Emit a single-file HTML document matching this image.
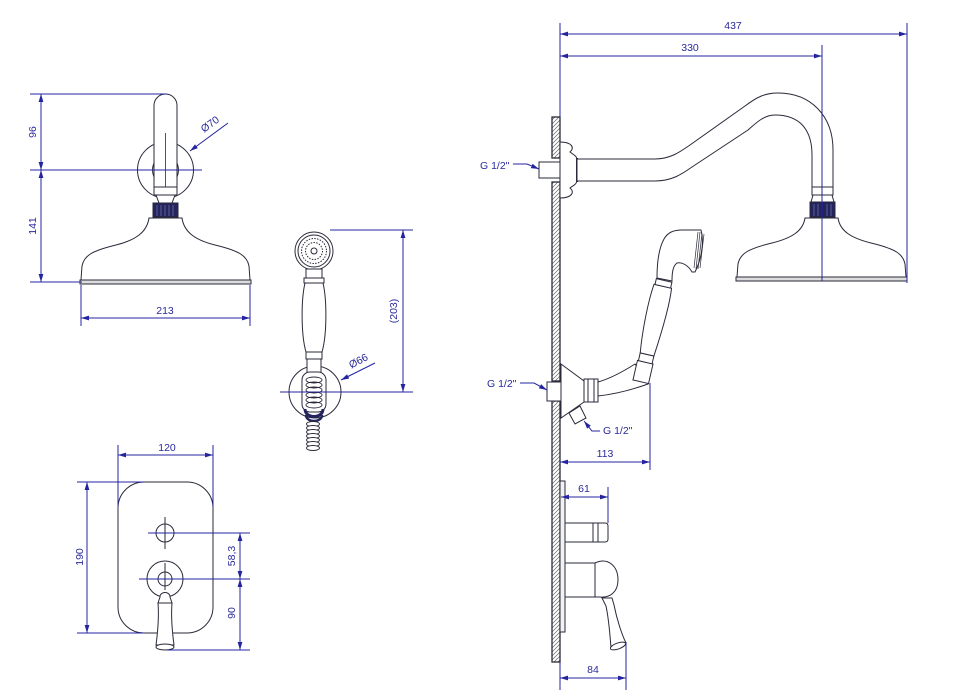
<!DOCTYPE html>
<html><head><meta charset="utf-8"><style>
html,body{margin:0;padding:0;background:#fff;}
svg{display:block;}
text{font-family:"Liberation Sans",Arial,sans-serif;font-size:10.5px;fill:#2a2a9c;}
</style></head><body>
<svg width="973" height="700" viewBox="0 0 973 700" xmlns="http://www.w3.org/2000/svg">
<defs>
<marker id="a" viewBox="0 0 10 6" refX="10" refY="3" markerWidth="8" markerHeight="5" orient="auto-start-reverse" markerUnits="userSpaceOnUse"><path d="M0,0 L10,3 L0,6 z" fill="#2424a0"/></marker>
<pattern id="h" patternUnits="userSpaceOnUse" width="4" height="4"><path d="M-1,1 L1,-1 M0,4 L4,0 M3,5 L5,3" stroke="#666" stroke-width="0.7"/></pattern>
</defs>

<!-- ============ DRAWINGS ============ -->
<g stroke="#2a2a3a" stroke-width="1" fill="#fff">
  <!-- top-left shower head -->
  <circle cx="165.5" cy="170" r="28" fill="none"/>
  <path d="M154,189 L154,105.5 A11.5,11.5 0 0 1 177,105.5 L177,189 Z"/>
  <path d="M154,163 q-3,7 0,14 M177,163 q3,7 0,14" fill="none"/>
  <line x1="165.5" y1="133" x2="165.5" y2="203" stroke-width="0.8"/>
  <rect x="154" y="187" width="23" height="8"/>
  <path d="M156,195 L175,195 L172,203 L159,203 Z"/>
  <rect x="153" y="203" width="25" height="14" fill="#23235e"/>
  <path d="M157,205 V216 M161,205 V216 M165,205 V216 M169,205 V216 M173,205 V216" stroke="#8888bb" stroke-width="0.6"/>
  <path d="M149,218 L182,218 C184,232 195,240 215,245 C240,251 247,256 249,266 L250,280 L81,280 L82,266 C84,256 91,251 116,245 C136,240 147,232 149,218 Z"/>
  <rect x="80" y="280" width="171" height="4" fill="#dcdcdc"/>

  <!-- left hand shower -->
  <circle cx="315" cy="392" r="26" fill="none"/>
  <circle cx="314" cy="251" r="19"/>
  <circle cx="314" cy="251" r="16" fill="none"/>
  <circle cx="314" cy="251" r="12.5" fill="none" stroke-dasharray="1.5 1.3"/>
  <circle cx="314" cy="251" r="8.5" fill="none" stroke-dasharray="1.5 1.3"/>
  <circle cx="314" cy="251" r="3" fill="none"/>
  <rect x="306" y="269" width="16" height="9"/>
  <rect x="304" y="278" width="20" height="5"/>
  <path d="M305,283 L323,283 C327,300 327,335 322,352 L306,352 C301,335 301,300 305,283 Z"/>
  <rect x="306" y="352" width="16" height="7"/>
  <rect x="307" y="359" width="14" height="14"/>
  <rect x="302" y="372" width="24" height="40" rx="8"/>
  <g fill="none" stroke-width="0.9">
    <ellipse cx="314" cy="380" rx="8" ry="3"/><ellipse cx="314" cy="385" rx="8" ry="3"/>
    <ellipse cx="314" cy="390" rx="8" ry="3"/><ellipse cx="314" cy="395" rx="8" ry="3"/>
    <ellipse cx="314" cy="400" rx="8" ry="3"/><ellipse cx="314" cy="405" rx="8" ry="3"/>
  </g>
  <path d="M305,409 C305,419 323,419 323,409" fill="none" stroke="#23235e" stroke-width="3"/>
  <path d="M306,415 C306,423 322,423 322,415" fill="none" stroke="#23235e" stroke-width="2.5"/>
  <g fill="#fff" stroke-width="0.9">
    <ellipse cx="313" cy="424" rx="6.5" ry="2.5"/><ellipse cx="313" cy="428" rx="6.5" ry="2.5"/>
    <ellipse cx="313" cy="432" rx="6.5" ry="2.5"/><ellipse cx="313" cy="436" rx="6.5" ry="2.5"/>
    <ellipse cx="313" cy="440" rx="6.5" ry="2.5"/><ellipse cx="313" cy="444" rx="6.5" ry="2.5"/>
    <ellipse cx="313" cy="448" rx="6.5" ry="2.5"/>
  </g>

  <!-- bottom-left mixer plate -->
  <rect x="118" y="482" width="95" height="151" rx="26"/>
  <circle cx="165" cy="533" r="9"/>
  <line x1="165" y1="517" x2="165" y2="549"/>
  <circle cx="165" cy="579" r="18"/>
  <circle cx="165" cy="579" r="7"/>
  <line x1="165" y1="563" x2="165" y2="590"/>
  <path d="M160,597 C160,591 170,591 170,597 L172,603 L158,603 Z"/>
  <path d="M158,603 L172,603 C171,615 172,630 174,645 L156,645 C158,630 159,615 158,603 Z"/>
  <ellipse cx="165" cy="647" rx="9" ry="3"/>

  <!-- right side: wall -->
  <g fill="url(#h)" stroke-width="1.3">
    <rect x="552" y="117" width="8" height="41"/>
    <rect x="552" y="182" width="8" height="199"/>
    <rect x="552" y="401" width="8" height="261"/>
  </g>
  <rect x="539" y="162" width="21" height="16"/>
  <path d="M560,142 C572,142 575,148 570,152 C574,155 577,156 577,160 L577,180 C577,184 574,185 570,188 C575,192 572,198 560,198 Z"/>
  <line x1="577" y1="158" x2="577" y2="182" stroke-width="2"/>
  <!-- arm -->
  <path d="M577,159 L655,159 C670,159 680,152 690,145 L745,106 C757,97 765,93 778,93 C810,93 833,115 833,150 L833,187 L812,187 L812,155 C812,130 800,115 775,115 C765,115 758,121 748,130 L692,167 C682,174 672,181 655,181 L577,181 Z"/>
  <rect x="812" y="187" width="21" height="8"/>
  <path d="M813,195 L832,195 L834,202 L811,202 Z"/>
  <rect x="810" y="202" width="25" height="15" fill="#23235e"/>
  <path d="M814,204 V216 M818,204 V216 M827,204 V216 M831,204 V216" stroke="#8888bb" stroke-width="0.6"/>
  <g transform="translate(656,-3)">
    <path d="M149,221 L182,221 C184,234 195,241 215,246 C240,252 247,257 249,267 L250,280 L81,280 L82,267 C84,257 91,252 116,246 C136,241 147,234 149,221 Z"/>
    <rect x="80" y="280" width="171" height="4" fill="#dcdcdc"/>
  </g>

  <!-- right hand shower -->
  <rect x="547" y="382" width="14" height="19"/>
  <path d="M561,364 L584,381 L584,402 L561,418 Z"/>
  <path d="M598,382 C612,378 624,371 635,364 L648,384 C634,389 616,394 598,396 Z"/>
  <rect x="584" y="379" width="14" height="23"/>
  <line x1="588" y1="379" x2="588" y2="402"/>
  <line x1="594" y1="379" x2="594" y2="402"/>
  <polygon points="569,413 580,406 586,418 575,424"/>
  <g transform="translate(643,372) rotate(13)">
    <rect x="-8" y="-10" width="16" height="20"/>
    <rect x="-7" y="-18" width="14" height="8"/>
    <path d="M-7,-18 C-10,-40 -11,-70 -9,-88 L9,-88 C11,-70 9,-40 7,-18 Z"/>
    <rect x="-8" y="-94" width="16" height="6"/>
  </g>
  <path d="M657,278 C657,262 659,248 664,239 C668,232 674,230 682,230 L701,230 C705,245 700,262 695,272 L692,272 C688,265 682,262 677,263 C673,266 672,272 672,281 Z"/>
  <path d="M698,232 L694,268 M700,232 L696,269 M702,233 L698,269 M704,234 L700,268" stroke-width="0.7" fill="none"/>

  <!-- bottom right mixer side view -->
  <rect x="560" y="481" width="5" height="151" fill="#f2f2f2"/>
  <rect x="565" y="523" width="28" height="19"/>
  <path d="M593,523 L605,523 Q608,523 608,526 L608,539 Q608,542 605,542 L593,542 Z"/>
  <line x1="598" y1="523" x2="598" y2="542"/>
  <rect x="565" y="563" width="30" height="34"/>
  <path d="M595,563 C608,557 618,566 618,580 C618,592 610,598 600,597 L595,597 Z"/>
  <path d="M602,598 L612,598 L614,605 C617,620 622,635 626,643 L611,648 C610,635 609,620 606,606 Z"/>
  <ellipse cx="618" cy="646" rx="8" ry="3" transform="rotate(-20 618 646)"/>
</g>

<!-- ============ DIMENSIONS ============ -->
<g stroke="#2424a0" stroke-width="1" fill="none">
  <!-- top-left -->
  <line x1="30" y1="94" x2="167" y2="94"/>
  <line x1="30" y1="170" x2="202" y2="170"/>
  <line x1="30" y1="282" x2="82" y2="282"/>
  <line x1="41" y1="94" x2="41" y2="170" marker-start="url(#a)" marker-end="url(#a)"/>
  <line x1="41" y1="170" x2="41" y2="282" marker-start="url(#a)" marker-end="url(#a)"/>
  <line x1="81" y1="285" x2="81" y2="326"/>
  <line x1="250" y1="285" x2="250" y2="326"/>
  <line x1="81" y1="318" x2="250" y2="318" marker-start="url(#a)" marker-end="url(#a)"/>
  <line x1="228" y1="123" x2="190" y2="151" marker-end="url(#a)"/>
  <!-- hand shower left -->
  <line x1="330" y1="230" x2="413" y2="230"/>
  <line x1="280" y1="392" x2="413" y2="392"/>
  <line x1="403" y1="230" x2="403" y2="392" marker-start="url(#a)" marker-end="url(#a)"/>
  <line x1="375" y1="363" x2="341" y2="380" marker-end="url(#a)"/>
  <!-- mixer plate -->
  <line x1="118" y1="445" x2="118" y2="507"/>
  <line x1="213" y1="445" x2="213" y2="507"/>
  <line x1="118" y1="455" x2="213" y2="455" marker-start="url(#a)" marker-end="url(#a)"/>
  <line x1="77" y1="482" x2="143" y2="482"/>
  <line x1="77" y1="633" x2="143" y2="633"/>
  <line x1="87" y1="482" x2="87" y2="633" marker-start="url(#a)" marker-end="url(#a)"/>
  <line x1="148" y1="533" x2="250" y2="533"/>
  <line x1="139" y1="579" x2="250" y2="579"/>
  <line x1="167" y1="650" x2="250" y2="650"/>
  <line x1="240" y1="533" x2="240" y2="579" marker-start="url(#a)" marker-end="url(#a)"/>
  <line x1="240" y1="579" x2="240" y2="650" marker-start="url(#a)" marker-end="url(#a)"/>
  <!-- right -->
  <line x1="560" y1="23" x2="560" y2="117"/>
  <line x1="907" y1="23" x2="907" y2="283"/>
  <line x1="822" y1="45" x2="822" y2="281"/>
  <line x1="560" y1="34" x2="907" y2="34" marker-start="url(#a)" marker-end="url(#a)"/>
  <line x1="560" y1="56" x2="822" y2="56" marker-start="url(#a)" marker-end="url(#a)"/>
  <polyline points="513,164 527,164 539,169" marker-end="url(#a)"/>
  <polyline points="520,383 534,383 547,390" marker-end="url(#a)"/>
  <polyline points="600,431 592,431 584,421" marker-end="url(#a)"/>
  <line x1="650" y1="383" x2="650" y2="470"/>
  <line x1="560" y1="462" x2="650" y2="462" marker-start="url(#a)" marker-end="url(#a)"/>
  <line x1="608" y1="487" x2="608" y2="523"/>
  <line x1="561" y1="497" x2="608" y2="497" marker-start="url(#a)" marker-end="url(#a)"/>
  <line x1="626" y1="642" x2="626" y2="690"/>
  <line x1="560" y1="662" x2="560" y2="690"/>
  <line x1="560" y1="678" x2="626" y2="678" marker-start="url(#a)" marker-end="url(#a)"/>
</g>

<!-- ============ TEXT ============ -->
<g text-anchor="middle">
  <text transform="translate(36,132) rotate(-90)">96</text>
  <text transform="translate(36,226) rotate(-90)">141</text>
  <text x="165" y="314">213</text>
  <text transform="translate(212,127) rotate(-36)">Ø70</text>
  <text transform="translate(397,311) rotate(-90)">(203)</text>
  <text transform="translate(360,364) rotate(-28)">Ø66</text>
  <text x="167" y="451">120</text>
  <text transform="translate(83,557) rotate(-90)">190</text>
  <text transform="translate(235,556) rotate(-90)">58,3</text>
  <text transform="translate(235,613) rotate(-90)">90</text>
  <text x="733" y="29">437</text>
  <text x="690" y="51">330</text>
  <text x="605" y="457">113</text>
  <text x="584" y="492">61</text>
  <text x="593" y="673">84</text>
</g>
<text x="480" y="169">G 1/2"</text>
<text x="487" y="387">G 1/2"</text>
<text x="603" y="434">G 1/2"</text>
</svg>
</body></html>
